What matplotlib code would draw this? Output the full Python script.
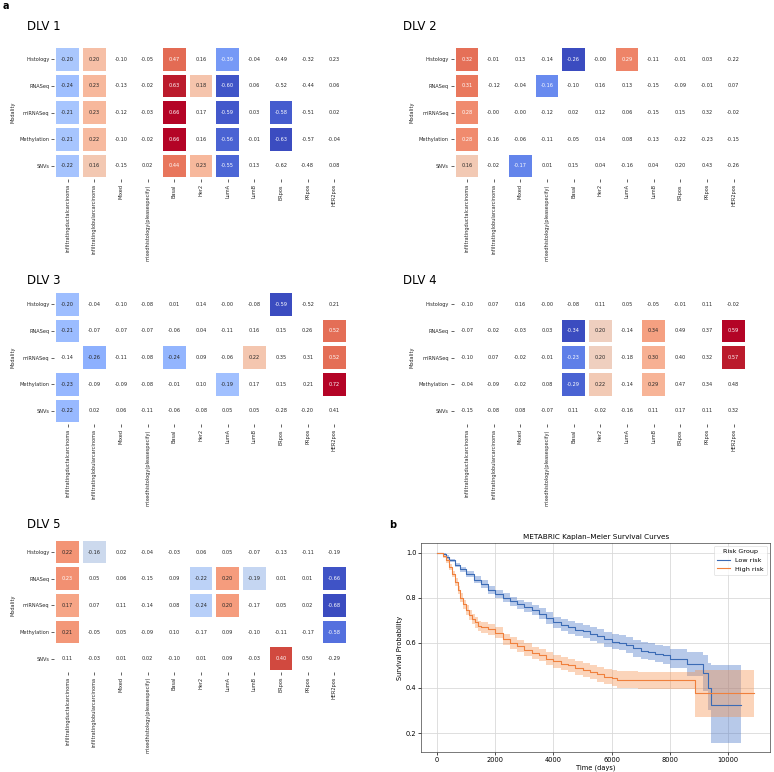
import numpy as np
import matplotlib
matplotlib.use("Agg")
import matplotlib.pyplot as plt
from matplotlib.colors import Normalize

# ---------------- data ----------------
modalities = ["Histology", "RNASeq", "miRNASeq", "Methylation", "SNVs"]
phenotypes = ["infiltratingductalcarcinoma", "infiltratinglobularcarcinoma", "Mixed",
              "mixedhistology(pleasespecify)", "Basal", "Her2", "LumA", "LumB",
              "ERpos", "PRpos", "HER2pos"]

dlv1_corr = [
    [-0.20, 0.20, -0.10, -0.05, 0.47, 0.16, -0.39, -0.04, -0.49, -0.32, 0.23],
    [-0.24, 0.23, -0.13, -0.02, 0.63, 0.18, -0.60, 0.06, -0.52, -0.44, 0.06],
    [-0.21, 0.23, -0.12, -0.03, 0.66, 0.17, -0.59, 0.03, -0.58, -0.51, 0.02],
    [-0.21, 0.22, -0.10, -0.02, 0.66, 0.16, -0.56, -0.01, -0.63, -0.57, -0.04],
    [-0.22, 0.16, -0.15, 0.02, 0.44, 0.23, -0.55, 0.13, -0.62, -0.48, 0.08],
]
dlv1_sig = [
    [1, 1, 0, 0, 1, 0, 1, 0, 0, 0, 0],
    [1, 1, 0, 0, 1, 1, 1, 0, 0, 0, 0],
    [1, 1, 0, 0, 1, 0, 1, 0, 1, 0, 0],
    [1, 1, 0, 0, 1, 0, 1, 0, 1, 0, 0],
    [1, 1, 0, 0, 1, 1, 1, 0, 0, 0, 0],
]
dlv2_corr = [
    [0.32, -0.01, 0.13, -0.14, -0.26, -0.00, 0.29, -0.11, -0.01, 0.03, -0.22],
    [0.31, -0.12, -0.04, -0.16, -0.10, 0.16, 0.13, -0.15, -0.09, -0.01, 0.07],
    [0.28, -0.00, -0.00, -0.12, 0.02, 0.12, 0.06, -0.15, 0.15, 0.32, -0.02],
    [0.28, -0.16, -0.06, -0.11, -0.05, 0.14, 0.08, -0.13, -0.22, -0.23, -0.15],
    [0.16, -0.02, -0.17, 0.01, 0.15, 0.04, -0.16, 0.04, 0.20, 0.43, -0.26],
]
dlv2_sig = [
    [1, 0, 0, 0, 1, 0, 1, 0, 0, 0, 0],
    [1, 0, 0, 1, 0, 0, 0, 0, 0, 0, 0],
    [1, 0, 0, 0, 0, 0, 0, 0, 0, 0, 0],
    [1, 0, 0, 0, 0, 0, 0, 0, 0, 0, 0],
    [1, 0, 1, 0, 0, 0, 0, 0, 0, 0, 0],
]
dlv3_corr = [
    [-0.20, -0.04, -0.10, -0.08, 0.01, 0.14, -0.00, -0.08, -0.59, -0.52, 0.21],
    [-0.21, -0.07, -0.07, -0.07, -0.06, 0.04, -0.11, 0.16, 0.15, 0.26, 0.52],
    [-0.14, -0.26, -0.11, -0.08, -0.24, 0.09, -0.06, 0.22, 0.35, 0.31, 0.52],
    [-0.23, -0.09, -0.09, -0.08, -0.01, 0.10, -0.19, 0.17, 0.15, 0.21, 0.72],
    [-0.22, 0.02, 0.06, -0.11, -0.06, -0.08, 0.05, 0.05, -0.28, -0.20, 0.41],
]
dlv3_sig = [
    [1, 0, 0, 0, 0, 0, 0, 0, 1, 0, 0],
    [1, 0, 0, 0, 0, 0, 0, 0, 0, 0, 1],
    [0, 1, 0, 0, 1, 0, 0, 1, 0, 0, 1],
    [1, 0, 0, 0, 0, 0, 1, 0, 0, 0, 1],
    [1, 0, 0, 0, 0, 0, 0, 0, 0, 0, 0],
]
dlv4_corr = [
    [-0.10, 0.07, 0.16, -0.00, -0.08, 0.11, 0.05, -0.05, -0.01, 0.11, -0.02],
    [-0.07, -0.02, -0.03, 0.03, -0.34, 0.20, -0.14, 0.34, 0.49, 0.37, 0.59],
    [-0.10, 0.07, -0.02, -0.01, -0.23, 0.20, -0.18, 0.30, 0.40, 0.32, 0.57],
    [-0.04, -0.09, -0.02, 0.08, -0.29, 0.22, -0.14, 0.29, 0.47, 0.34, 0.48],
    [-0.15, -0.08, 0.08, -0.07, 0.11, -0.02, -0.16, 0.11, 0.17, 0.11, 0.32],
]
dlv4_sig = [
    [0, 0, 0, 0, 0, 0, 0, 0, 0, 0, 0],
    [0, 0, 0, 0, 1, 1, 0, 1, 0, 0, 1],
    [0, 0, 0, 0, 1, 1, 0, 1, 0, 0, 1],
    [0, 0, 0, 0, 1, 1, 0, 1, 0, 0, 0],
    [0, 0, 0, 0, 0, 0, 0, 0, 0, 0, 0],
]
dlv5_corr = [
    [0.22, -0.16, 0.02, -0.04, -0.03, 0.06, 0.05, -0.07, -0.13, -0.11, -0.19],
    [0.23, 0.05, 0.06, -0.15, 0.09, -0.22, 0.20, -0.19, 0.01, 0.01, -0.66],
    [0.17, 0.07, 0.11, -0.14, 0.08, -0.24, 0.20, -0.17, 0.05, 0.02, -0.68],
    [0.21, -0.05, 0.05, -0.09, 0.10, -0.17, 0.09, -0.10, -0.11, -0.17, -0.58],
    [0.11, -0.03, 0.01, 0.02, -0.10, 0.01, 0.09, -0.03, 0.40, 0.50, -0.29],
]
dlv5_sig = [
    [1, 1, 0, 0, 0, 0, 0, 0, 0, 0, 0],
    [1, 0, 0, 0, 0, 1, 1, 1, 0, 0, 1],
    [1, 0, 0, 0, 0, 1, 1, 0, 0, 0, 1],
    [1, 0, 0, 0, 0, 0, 0, 0, 0, 0, 1],
    [0, 0, 0, 0, 0, 0, 0, 0, 1, 0, 0],
]

# Kaplan-Meier curves
low_t = [0, 100, 200, 300, 400, 600, 800, 1000, 1250, 1500, 1750, 2000, 2250, 2500,
         2750, 3000, 3250, 3500, 3750, 4000, 4250, 4500, 4750, 5000, 5250, 5500, 5750,
         6000, 6250, 6500, 6750, 7000, 7250, 7500, 7750, 8000, 8580, 9150, 9300, 9400, 10450]
low_s = [1.0, 0.998, 0.992, 0.98, 0.965, 0.945, 0.925, 0.905, 0.88, 0.86, 0.835, 0.815,
         0.80, 0.785, 0.77, 0.758, 0.745, 0.728, 0.71, 0.69, 0.678, 0.668, 0.658, 0.65,
         0.64, 0.628, 0.615, 0.605, 0.60, 0.59, 0.575, 0.565, 0.56, 0.552, 0.545, 0.53,
         0.505, 0.465, 0.40, 0.325, 0.325]
low_lo = [1.0, 0.995, 0.987, 0.973, 0.957, 0.935, 0.913, 0.892, 0.865, 0.844, 0.818, 0.797,
          0.781, 0.765, 0.749, 0.736, 0.722, 0.704, 0.685, 0.665, 0.652, 0.641, 0.630, 0.621,
          0.610, 0.597, 0.583, 0.572, 0.566, 0.555, 0.539, 0.528, 0.522, 0.513, 0.505, 0.488,
          0.452, 0.385, 0.300, 0.158, 0.158]
low_hi = [1.0, 1.0, 0.997, 0.987, 0.973, 0.955, 0.937, 0.918, 0.895, 0.876, 0.852, 0.833,
          0.819, 0.805, 0.791, 0.780, 0.768, 0.752, 0.735, 0.715, 0.704, 0.695, 0.686, 0.679,
          0.670, 0.659, 0.647, 0.638, 0.634, 0.625, 0.611, 0.602, 0.598, 0.591, 0.585, 0.572,
          0.558, 0.545, 0.510, 0.502, 0.502]

high_t = [0, 100, 200, 300, 400, 500, 600, 700, 800, 900, 1000, 1100, 1200, 1300, 1400,
          1500, 1750, 2000, 2250, 2500, 2750, 3000, 3250, 3500, 3750, 4000, 4250, 4500,
          4750, 5000, 5250, 5500, 5750, 6000, 6200, 6900, 8860, 10900]
high_s = [1.0, 0.997, 0.985, 0.965, 0.935, 0.905, 0.87, 0.835, 0.80, 0.77, 0.745, 0.725,
          0.705, 0.69, 0.675, 0.668, 0.66, 0.645, 0.615, 0.60, 0.585, 0.57, 0.555, 0.545,
          0.53, 0.518, 0.508, 0.50, 0.49, 0.48, 0.47, 0.46, 0.45, 0.443, 0.437, 0.433,
          0.378, 0.378]
high_lo = [1.0, 0.993, 0.977, 0.954, 0.922, 0.890, 0.853, 0.817, 0.781, 0.750, 0.724, 0.703,
           0.683, 0.667, 0.652, 0.645, 0.636, 0.620, 0.590, 0.574, 0.558, 0.543, 0.527, 0.517,
           0.501, 0.489, 0.478, 0.470, 0.459, 0.449, 0.438, 0.427, 0.416, 0.408, 0.401, 0.396,
           0.272, 0.272]
high_hi = [1.0, 1.0, 0.993, 0.976, 0.948, 0.920, 0.887, 0.853, 0.819, 0.790, 0.766, 0.747,
           0.727, 0.713, 0.698, 0.691, 0.684, 0.670, 0.640, 0.626, 0.612, 0.597, 0.583, 0.573,
           0.559, 0.547, 0.538, 0.530, 0.521, 0.511, 0.502, 0.493, 0.484, 0.478, 0.473, 0.470,
           0.480, 0.480]

# ---------------- layout ----------------
W, H = 774, 772
fig = plt.figure(figsize=(W / 100, H / 100), dpi=100)
plt.rcParams['font.family'] = ['DejaVu Sans']


def px_axes(left, top, right, bottom):
    return fig.add_axes([left / W, 1 - bottom / H, (right - left) / W, (bottom - top) / H])


cmap = plt.get_cmap('coolwarm')
FS = 3.6


def text_color(rgba):
    rgb = np.array(rgba[:3])
    rgb = np.where(rgb <= .03928, rgb / 12.92, ((rgb + .055) / 1.055) ** 2.4)
    lum = rgb.dot([.2126, .7152, .0722])
    return ".15" if lum > .408 else "w"


def draw_heat(ax, corr, sig):
    data = np.array(corr, dtype=float)
    m = np.array(sig, dtype=bool)
    nr, nc = data.shape
    norm = Normalize(vmin=data.min(), vmax=data.max())
    masked = np.ma.masked_where(~m, data)
    ax.pcolormesh(np.arange(nc + 1), np.arange(nr + 1), masked, cmap=cmap, norm=norm,
                  edgecolors='white', linewidth=1.7)
    ax.set_xlim(0, nc)
    ax.set_ylim(nr, 0)
    for i in range(nr):
        for j in range(nc):
            v = data[i, j]
            col = text_color(cmap(norm(v))) if m[i, j] else ".15"
            ax.text(j + 0.5, i + 0.5, f"{v:.2f}", ha='center', va='center',
                    fontsize=FS, color=col)
    ax.set_xticks(np.arange(nc) + 0.5)
    ax.set_xticklabels(phenotypes, rotation=90, fontsize=FS, color='.15')
    ax.set_yticks(np.arange(nr) + 0.5)
    ax.set_yticklabels(modalities, fontsize=FS, color='.15')
    ax.tick_params(length=2, width=0.5, pad=1.5, color='.15')
    for s in ax.spines.values():
        s.set_visible(False)
    ax.set_ylabel("Modality", fontsize=FS, color='.15', labelpad=3)


panels = [
    (dlv1_corr, dlv1_sig, "DLV 1", (54.3, 46.0, 347.7, 179.3), (27, 26)),
    (dlv2_corr, dlv2_sig, "DLV 2", (453.7, 46.0, 747.0, 179.3), (403, 26)),
    (dlv3_corr, dlv3_sig, "DLV 3", (54.3, 291.0, 347.7, 424.3), (27, 281)),
    (dlv4_corr, dlv4_sig, "DLV 4", (453.7, 291.0, 747.0, 424.3), (403, 281)),
    (dlv5_corr, dlv5_sig, "DLV 5", (54.3, 538.7, 347.7, 672.0), (27, 525)),
]
for corr, sig, title, box, tpos in panels:
    ax = px_axes(*box)
    draw_heat(ax, corr, sig)
    fig.text(tpos[0] / W, 1 - tpos[1] / H, title, fontsize=8.5, ha='left', va='center')

fig.text(3 / W, 1 - 6 / H, "a", fontsize=7, fontweight='bold', ha='left', va='center')
fig.text(389 / W, 1 - 525 / H, "b", fontsize=7, fontweight='bold', ha='left', va='center')

# ---------------- survival panel ----------------
ax = px_axes(421.3, 543.0, 770.0, 752.0)
blue = '#3b6bb5'
orange = '#f0803c'
ax.fill_between(low_t, low_lo, low_hi, step='post', color='#4c78c8', alpha=0.4, lw=0)
ax.fill_between(high_t, high_lo, high_hi, step='post', color='#f5904a', alpha=0.38, lw=0)
ax.plot(low_t, low_s, drawstyle='steps-post', color=blue, lw=0.8, label='Low risk')
ax.plot(high_t, high_s, drawstyle='steps-post', color=orange, lw=0.8, label='High risk')
ax.grid(True, color='#d9d9d9', lw=0.6)
ax.set_axisbelow(True)
ax.set_title("METABRIC Kaplan\u2013Meier Survival Curves", fontsize=5.2, pad=3)
ax.set_xlabel("Time (days)", fontsize=4.8, labelpad=1.5)
ax.set_ylabel("Survival Probability", fontsize=4.8, labelpad=2)
ax.tick_params(labelsize=4.8, length=2, width=0.5, pad=1.5)
ax.set_yticks([0.2, 0.4, 0.6, 0.8, 1.0])
for s in ax.spines.values():
    s.set_linewidth(0.5)
    s.set_color('#444444')
leg = ax.legend(title="Risk Group", loc='upper right', fontsize=4.6, title_fontsize=4.6,
                frameon=True, handlelength=2.0, borderpad=0.5)
leg.get_frame().set_linewidth(0.4)

fig.savefig("out.png", dpi=100)
